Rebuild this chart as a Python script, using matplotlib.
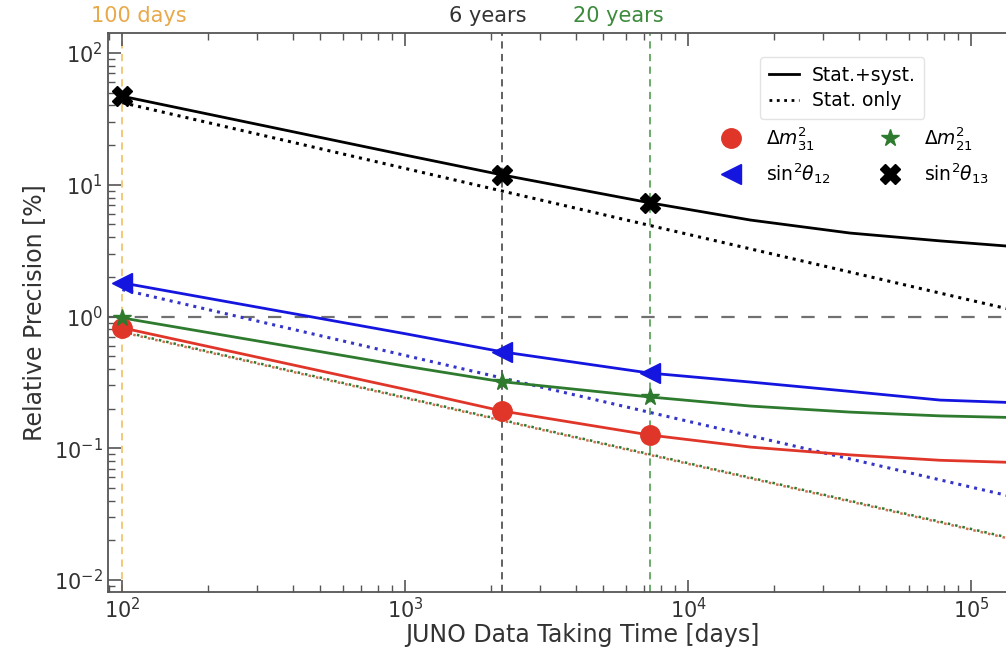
import numpy as np
import matplotlib
matplotlib.use("Agg")
import matplotlib.pyplot as plt
from matplotlib.lines import Line2D
import matplotlib.transforms as mtransforms

# ---- data ----
# days of data taking
t_sys = [100, 1000, 2191, 7300, 16560, 37300, 77600, 140000]
dm31_sys = [0.82, 0.28, 0.192, 0.126, 0.102, 0.089, 0.081, 0.078]
dm21_sys = [0.975, 0.42, 0.32, 0.245, 0.209, 0.188, 0.176, 0.171]
s12_sys = [1.8, 0.74, 0.54, 0.372, 0.318, 0.27, 0.232, 0.222]
s13_sys = [47.0, 16.8, 11.9, 7.3, 5.4, 4.3, 3.75, 3.4]

t_stat = [100, 1000, 10000, 140000]
dm31_stat = [0.76, 0.24, 0.076, 0.0203]
dm21_stat = [0.77, 0.243, 0.077, 0.0206]
s12_stat = [1.6, 0.506, 0.16, 0.0428]
s13_stat = [42.0, 13.3, 4.2, 1.12]

t_markers = [100, 2191, 7300]
ref_lines = [100, 2191, 7300]
ref_labels = ["100 days", "6 years", "20 years"]
ref_label_x = [114, 1950, 5660]

# ---- figure ----
fig = plt.figure(figsize=(10.06, 6.48), dpi=100)
xmin, xmax = 89.0, 2.0e5
left_px, bottom_px, top_px = 108, 592, 33
decade_px = 283.0
width_px = (np.log10(xmax) - np.log10(xmin)) * decade_px
ax = fig.add_axes([left_px / 1006, 1 - bottom_px / 648, width_px / 1006, (bottom_px - top_px) / 648])
ax.set_xscale("log")
ax.set_yscale("log")
ax.set_xlim(xmin, xmax)
ax.set_ylim(0.0081, 142)

c_red = "#e0362a"
c_green = "#2e7a2e"
c_blue = "#1515e0"
c_black = "black"

# reference lines
ref_colors = ["#f2c46e", "#555555", "#5fa55f"]
for x, col in zip(ref_lines, ref_colors):
    ax.axvline(x, color=col, ls=(0, (4, 3)), lw=1.3, zorder=1)
ax.axhline(1.0, color="#707070", ls=(0, (6, 6)), lw=1.6, zorder=1)

trans = mtransforms.blended_transform_factory(ax.transData, ax.transAxes)
for xl, lab, col in zip(ref_label_x, ref_labels, ["#e8a94a", "#333333", "#3c8a3c"]):
    ax.text(xl, 1.012, lab, transform=trans, ha="center", va="bottom",
            fontsize=15, color=col)

# stat-only lines
ax.plot(t_stat, s13_stat, color=c_black, ls=":", lw=2.2, zorder=3)
ax.plot(t_stat, s12_stat, color="#3535c8", ls=":", lw=2.2, zorder=3)
ax.plot(t_stat, dm21_stat, color=c_green, ls=(0, (1, 2)), lw=1.8, zorder=3)
ax.plot(t_stat, dm31_stat, color="#d07050", ls=(1.5, (1, 2)), lw=1.8, zorder=3)

# stat+syst lines
def interp_at(tq, t, v):
    return float(10 ** np.interp(np.log10(tq), np.log10(t), np.log10(v)))

series = [
    (dm31_sys, c_red, "o", 14),
    (dm21_sys, c_green, "*", 13),
    (s12_sys, c_blue, "<", 14),
    (s13_sys, c_black, "X", 14),
]
for vals, col, mk, ms in series:
    ax.plot(t_sys, vals, color=col, lw=2.0, zorder=4)
    mv = [interp_at(tm, t_sys, vals) for tm in t_markers]
    ax.plot(t_markers, mv, ls="none", marker=mk, color=col, ms=ms, zorder=5)

# axes styling
for sp in ax.spines.values():
    sp.set_color("#555555")
    sp.set_linewidth(1.3)
ax.tick_params(which="both", direction="in", top=True, right=True,
               colors="#555555", labelcolor="#333333", labelsize=15)
ax.tick_params(which="major", length=9, width=1.2)
ax.tick_params(which="minor", length=5, width=1.0)
ax.set_xlabel("JUNO Data Taking Time [days]", fontsize=17, color="#333333", labelpad=1)
ax.set_ylabel("Relative Precision [%]", fontsize=17, color="#333333", labelpad=6)

# legends
h1 = [Line2D([], [], color="black", lw=2.0, ls="-"),
      Line2D([], [], color="black", lw=2.0, ls=":")]
leg1 = ax.legend(h1, ["Stat.+syst.", "Stat. only"], loc="upper left",
                 bbox_to_anchor=(751 / 1006, 1 - 48 / 648), bbox_transform=fig.transFigure,
                 fontsize=13.5, frameon=True, handlelength=1.6, borderpad=0.45,
                 labelspacing=0.35, handletextpad=0.7, fancybox=True)
leg1.get_frame().set_edgecolor("#dddddd")
ax.add_artist(leg1)

h2 = [Line2D([], [], ls="none", marker="o", color=c_red, ms=14),
      Line2D([], [], ls="none", marker="<", color=c_blue, ms=14),
      Line2D([], [], ls="none", marker="*", color=c_green, ms=13),
      Line2D([], [], ls="none", marker="X", color=c_black, ms=14)]
l2 = [r"$\Delta m^2_{31}$", r"$\sin^2\!\theta_{12}$", r"$\Delta m^2_{21}$", r"$\sin^2\!\theta_{13}$"]
ax.legend(h2, l2, loc="upper left", ncol=2,
          bbox_to_anchor=(700 / 1006, 1 - 108 / 648), bbox_transform=fig.transFigure,
          fontsize=13.5, frameon=False, handlelength=1.5, handletextpad=1.1,
          columnspacing=2.4, labelspacing=0.5)

fig.savefig("out.png", dpi=100)
